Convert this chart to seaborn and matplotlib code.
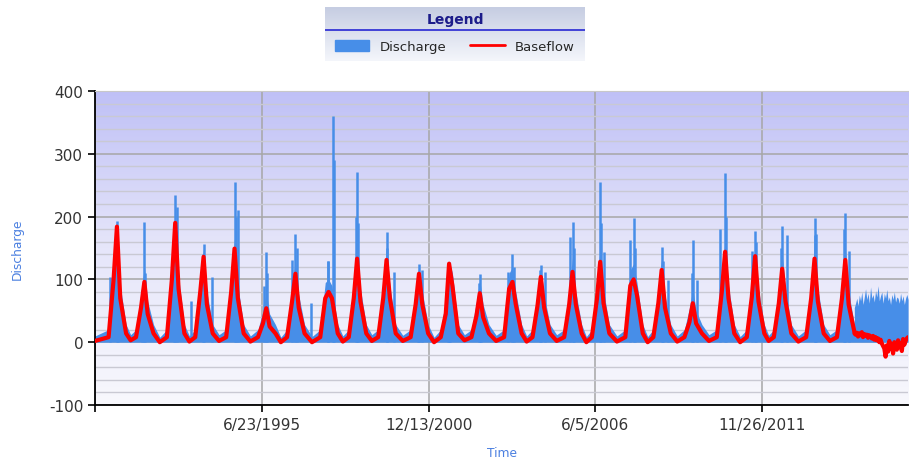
import numpy as np
import pandas as pd
import seaborn as sns
import matplotlib.pyplot as plt
import matplotlib.dates as mdates
from matplotlib.colors import LinearSegmentedColormap
from matplotlib.lines import Line2D
from matplotlib.patches import Patch

# yearly hydrograph
peak_dates = ["1990-09-20", "1991-08-15", "1992-08-19", "1993-07-25", "1994-07-31",
              "1995-08-16", "1996-07-30", "1997-09-01", "1998-08-09", "1999-07-28",
              "2000-08-20", "2001-08-16", "2002-08-19", "2003-09-15", "2004-08-20",
              "2005-09-04", "2006-08-02", "2007-09-07", "2008-08-08", "2009-08-16",
              "2010-09-08", "2011-09-03", "2012-07-23", "2013-08-15", "2014-08-19"]
baseflow_peak = [184, 96, 190, 136, 149, 54, 109, 80, 133, 131, 109, 125, 78,
                 96, 104, 112, 128, 100, 115, 62, 144, 137, 117, 133, 131]
baseflow_rise = [100, 55, 100, 80, 80, 30, 65, 70, 70, 70, 60, 45, 42,
                 85, 58, 60, 68, 90, 62, 32, 80, 72, 62, 70, 70]
baseflow_fall = [70, 45, 85, 60, 70, 25, 55, 70, 65, 70, 60, 90, 40,
                 60, 55, 60, 62, 75, 55, 30, 70, 65, 65, 65, 60]
baseflow_low = [2, 3, 0, 1, 2, 1, 0, 0, 1, 2, 2, 0, 3, 2, 1, 2, 0, 1, 0, 1, 2, 0, 2, 1, 2]
baseflow_foot = (8, 14)

discharge_peak = [193, 192, 235, 157, 255, 144, 173, 360, 271, 175, 125, 127, 108,
                  141, 123, 191, 255, 197, 151, 162, 269, 177, 185, 197, 205]
discharge_peak_shift = [0, 0, 0, 0, 0, 0, 0, 55, 0, 0, 0, 0, 0,
                        0, 0, 0, 0, 0, 0, 0, 0, 0, 0, 0, 0]
discharge_second = [104, 83, 215, 104, 210, 90, 131, 290, 190, 112, 115, 118, 70,
                    112, 112, 168, 144, 162, 99, 99, 181, 145, 170, 173, 146]
discharge_second_shift = [-88, -32, 24, 100, 40, -30, -40, 62, 12, 88, 40, -10, 20,
                          -48, 52, -32, 40, -40, 80, 52, -56, -40, 56, 20, 40]
discharge_third = [150, 110, 180, 140, 200, 110, 150, 130, 200, 150, 110, 115, 95,
                   120, 115, 150, 190, 150, 130, 110, 200, 160, 150, 170, 180]
discharge_third_shift = [8, 10, -12, -10, 12, 10, 15, -8, -15, 10, -15, 12, -12,
                         15, -15, 12, 15, 12, 12, -10, 15, 12, -15, 10, -12]
discharge_crest = [185, 120, 205, 150, 165, 80, 130, 100, 150, 150, 122, 130, 100,
                   120, 120, 135, 150, 125, 135, 85, 165, 155, 140, 155, 150]
discharge_rise = [125, 80, 125, 105, 105, 50, 90, 95, 95, 95, 85, 70, 65,
                  110, 83, 85, 93, 115, 87, 55, 105, 97, 87, 95, 95]
discharge_fall = [90, 65, 105, 80, 90, 45, 75, 90, 85, 90, 80, 110, 60,
                  80, 75, 80, 82, 95, 75, 50, 90, 85, 85, 85, 80]
discharge_low = [10, 12, 8, 10, 12, 10, 8, 9, 10, 12, 11, 8, 12,
                 11, 10, 12, 9, 10, 9, 10, 12, 9, 11, 10, 12]
discharge_foot = (20, 28)

extra_spike_dates = ["1993-02-23", "1997-02-04", "1997-08-27"]
extra_spike_values = [65, 62, 130]

# noisy last stretch, every 15 days from Dec 2014
tail_discharge = [55, 62, 70, 58, 75, 66, 80, 60, 72, 85, 68, 78, 62, 88, 70,
                  76, 64, 82, 72, 90, 66, 74, 80, 62, 78, 70, 84, 66, 72, 60,
                  76, 68, 80, 64, 72, 70, 62, 78, 66, 74, 60, 70, 76, 68]
tail_baseflow = [17, 12, 15, 9, 14, 11, 16, 8, 13, 10, 12, 7, 11, 9, 6,
                 10, 4, 8, 3, 6, 0, 4, -2, -6, -10, -23, -5, -15, 2, -10,
                 -4, -18, 0, -6, -12, 3, -8, -2, -14, 5, -4, 2, 6, 8]

BLUE = "#478ee8"
RED = "#ff0000"

day = pd.Timedelta(days=1)
peaks = pd.to_datetime(peak_dates)
start = pd.Timestamp("1989-12-31")
tail = pd.date_range("2014-12-05", periods=len(tail_discharge), freq="15D")

bf_x, bf_y = [start], [baseflow_low[0]]
q_x, q_y = [start], [discharge_low[0]]
spike_x, spike_y = list(pd.to_datetime(extra_spike_dates)), list(extra_spike_values)
for i, p in enumerate(peaks):
    if i > 0:
        mid = peaks[i - 1] + (p - peaks[i - 1]) / 2
        bf_x.append(mid)
        bf_y.append(baseflow_low[i])
        q_x.append(mid)
        q_y.append(discharge_low[i])
    offs = [p - 100 * day, p - 40 * day, p, p + 40 * day, p + 110 * day]
    bf_x += offs
    bf_y += [baseflow_foot[0], baseflow_rise[i], baseflow_peak[i], baseflow_fall[i], baseflow_foot[1]]
    q_x += offs
    q_y += [discharge_foot[0], discharge_rise[i], discharge_crest[i], discharge_fall[i], discharge_foot[1]]
    spike_x += [p + discharge_peak_shift[i] * day, p + discharge_second_shift[i] * day,
                p + discharge_third_shift[i] * day]
    spike_y += [discharge_peak[i], discharge_second[i], discharge_third[i]]

bf_x += list(tail)
bf_y += tail_baseflow
q_x += list(tail)
q_y += tail_discharge
end = tail[-1]

baseflow = pd.DataFrame({"Time": bf_x, "Baseflow": bf_y})
discharge = pd.DataFrame({"Time": q_x, "Discharge": q_y})

sns.set_style("white")
plt.rcParams["font.family"] = ["DejaVu Sans"]
plt.rcParams["axes.unicode_minus"] = False

fig = plt.figure(figsize=(9.09, 4.6), dpi=100)
ax = fig.add_axes([0.1045, 0.1174, 0.8945, 0.6826])

# lavender gradient background
grad = np.linspace(1, 0, 256).reshape(-1, 1)
cmap = LinearSegmentedColormap.from_list("bg", ["#f8f8fd", "#e6e6fa", "#bfc0f6"])
ax.imshow(grad, extent=[mdates.date2num(start), mdates.date2num(end), -100, 400],
          aspect="auto", cmap=cmap, zorder=0, origin="upper")

ax.fill_between(discharge["Time"], 0, discharge["Discharge"], color=BLUE, lw=0, zorder=2)
ax.vlines(spike_x, 0, spike_y, color=BLUE, lw=1.8, zorder=2)
sns.lineplot(data=baseflow, x="Time", y="Baseflow", color=RED, lw=3,
             estimator=None, ax=ax, zorder=3)

ax.set_xlim(start, end)
ax.set_ylim(-100, 400)
ax.set_yticks(range(-100, 401, 100))
ax.set_yticks(range(-100, 401, 20), minor=True)
xt = [start + k * 2000 * day for k in range(5)]
ax.set_xticks(xt)
ax.set_xticklabels([""] + [f"{d.month}/{d.day}/{d.year}" for d in xt[1:]])

ax.set_axisbelow(True)
ax.grid(which="minor", axis="y", color="#c9c9d3", lw=1)
ax.grid(which="major", axis="both", color="#a6a6a6", lw=1.1)
ax.tick_params(which="major", direction="out", length=5, width=1.2, color="black",
               labelsize=11, labelcolor="#333333", left=True, bottom=True)
ax.tick_params(which="minor", length=0)
ax.tick_params(axis="x", pad=4)
for s in ["left", "bottom"]:
    ax.spines[s].set_color("black")
    ax.spines[s].set_linewidth(1.3)
ax.spines["top"].set_color("#c8c8c8")
ax.spines["right"].set_visible(False)

ax.set_ylabel("Discharge", color="#4a7fe0", fontsize=8.8, labelpad=18)
ax.set_xlabel("Time", color="#4a7fe0", fontsize=8.8, labelpad=10)

# legend panel
lax = fig.add_axes([325 / 909, 1 - 62 / 460, 260 / 909, 54 / 460])
lax.set_axis_off()
lgrad = np.linspace(0, 1, 64).reshape(-1, 1)
lcmap = LinearSegmentedColormap.from_list("lg", ["#c6cde2", "#dde2ef", "#f4f6fb"])
lax.imshow(lgrad, extent=[0, 1, 0, 1], aspect="auto", cmap=lcmap, origin="upper")
lax.set_xlim(0, 1)
lax.set_ylim(0, 1)
lax.text(0.5, 0.78, "Legend", ha="center", va="center", fontsize=10,
         fontweight="bold", color="#1c1c8a")
lax.plot([0, 1], [0.58, 0.58], color="#3535d5", lw=1.3)
handles = [Patch(color=BLUE), Line2D([], [], color=RED, lw=2)]
lax.legend(handles, ["Discharge", "Baseflow"], ncol=2, loc="center",
           bbox_to_anchor=(0.5, 0.27), frameon=False, fontsize=9.5,
           handlelength=2.6, handleheight=0.9, columnspacing=1.8)

fig.savefig("out.png", dpi=100)
